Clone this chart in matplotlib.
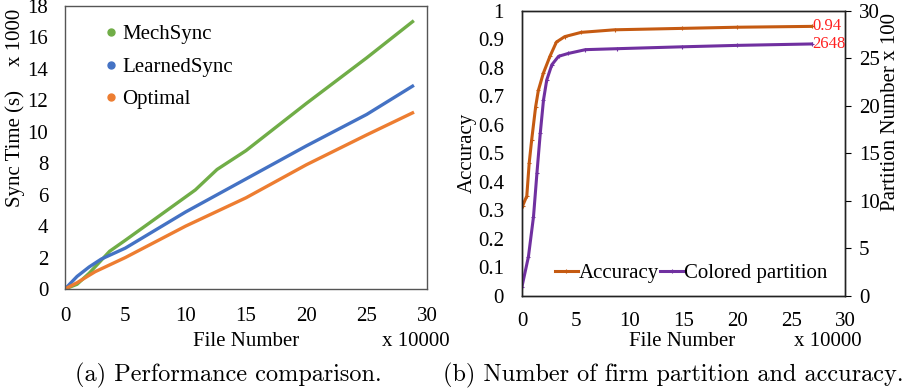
import matplotlib
matplotlib.use("Agg")
import matplotlib.pyplot as plt

# panel (a): sync time (x 1000 s) vs file number (x 10000)
mech_x = [0, 1, 2, 3.7, 5, 7, 10.8, 12.6, 15, 20, 25, 28.8]
mech_y = [0, 0.3, 1.0, 2.4, 3.1, 4.2, 6.3, 7.6, 8.8, 11.8, 14.7, 17.0]
learned_x = [0, 0.5, 1, 2, 3, 5, 10, 15, 20, 25, 28.8]
learned_y = [0, 0.4, 0.8, 1.4, 1.9, 2.6, 4.9, 7.0, 9.1, 11.1, 12.9]
opt_x = [0, 1, 2.5, 5, 10, 15, 20, 25, 28.8]
opt_y = [0, 0.4, 1.1, 2.0, 4.0, 5.8, 7.9, 9.8, 11.2]

# panel (b): accuracy and colored partition count (x 100)
acc_x = [0.06, 0.45, 0.67, 0.9, 1.27, 1.52, 1.98, 2.6, 3.2, 3.97, 5.5, 8.6, 14.9, 20, 26.9]
acc_y = [0.315, 0.35, 0.465, 0.546, 0.663, 0.72, 0.78, 0.84, 0.89, 0.909, 0.924, 0.933, 0.938, 0.942, 0.945]
part_x = [0.0, 0.6, 1.07, 1.39, 1.7, 2.0, 2.3, 2.77, 3.4, 4.3, 5.9, 8.8, 14.9, 20, 26.9]
part_y = [0.95, 4.1, 8.3, 12.9, 17.1, 20.6, 22.7, 24.3, 25.2, 25.5, 25.9, 26.0, 26.2, 26.35, 26.5]

serif = "Liberation Serif"
fs = 15

fig = plt.figure(figsize=(9.13, 3.92), dpi=100)

# ---- (a) ----
ax = fig.add_axes([0.0712, 0.2628, 0.3965, 0.722])
ax.plot(mech_x, mech_y, color="#70AD47", lw=2.4, label="MechSync")
ax.plot(learned_x, learned_y, color="#4472C4", lw=2.4, label="LearnedSync")
ax.plot(opt_x, opt_y, color="#ED7D31", lw=2.4, label="Optimal")
ax.set_xlim(0, 30)
ax.set_ylim(0, 18)
ax.set_xticks(range(0, 31, 5))
ax.set_yticks(range(0, 19, 2))
ax.tick_params(axis="y", length=0, labelsize=fs, pad=12)
ax.tick_params(axis="x", length=0, labelsize=fs, pad=13)
for lab in ax.get_xticklabels() + ax.get_yticklabels():
    lab.set_fontfamily(serif)
for s in ax.spines.values():
    s.set_color("#555555")
    s.set_linewidth(1.0)
handles = [plt.Line2D([], [], ls="", marker="o", ms=5, color=c)
           for c in ["#70AD47", "#4472C4", "#ED7D31"]]
ax.legend(handles, ["MechSync", "LearnedSync", "Optimal"], loc="upper left",
          frameon=False, prop={"family": serif, "size": fs}, handlelength=0.5,
          handletextpad=0.3, labelspacing=0.62, borderaxespad=0.5,
          bbox_to_anchor=(0.06, 1.0))

fig.text(15 / 913, 1 - 149 / 392, "Sync Time (s)", rotation=90, ha="center", va="center",
         family=serif, size=fs)
fig.text(15 / 913, 1 - 37 / 392, "x 1000", rotation=90, ha="center", va="center",
         family=serif, size=fs)
fig.text(246 / 913, 1 - 342 / 392, "File Number", ha="center", va="center",
         family=serif, size=fs)
fig.text(416 / 913, 1 - 342 / 392, "x 10000", ha="center", va="center",
         family=serif, size=fs)
fig.text(228 / 913, 1 - 375 / 392, "(a) Performance comparison.", ha="center", va="center",
         family="cmr10", size=17.5)

# ---- (b) ----
bx = fig.add_axes([0.5717, 0.2457, 0.3538, 0.727])
l1, = bx.plot(acc_x, acc_y, color="#C55A11", lw=2.2, marker="+", ms=3, mew=0.8,
              label="Accuracy")
bx.set_xlim(0, 30)
bx.set_ylim(0, 1)
bx.set_xticks(range(0, 31, 5))
bx.set_yticks([i / 10 for i in range(11)])
bx.set_yticklabels(["0", "0.1", "0.2", "0.3", "0.4", "0.5", "0.6", "0.7", "0.8", "0.9", "1"])
bx.tick_params(axis="y", length=0, labelsize=fs, pad=13)
bx.tick_params(axis="x", length=0, labelsize=fs, pad=12)
for lab in bx.get_xticklabels() + bx.get_yticklabels():
    lab.set_fontfamily(serif)

bx2 = bx.twinx()
l2, = bx2.plot(part_x, part_y, color="#7030A0", lw=2.2, marker="+", ms=3, mew=0.8,
               label="Colored partition")
bx2.set_ylim(0, 30)
bx2.set_yticks(range(0, 31, 5))
bx2.tick_params(axis="y", length=4, direction="out", labelsize=fs, pad=6)
for lab in bx2.get_yticklabels():
    lab.set_fontfamily(serif)
for a in (bx, bx2):
    for s in a.spines.values():
        s.set_color("#222222")
        s.set_linewidth(1.0)

bx.text(acc_x[-1] + 0.1, acc_y[-1], "0.94", color="#FF2020", family=serif, size=12,
        ha="left", va="center")
bx2.text(part_x[-1] + 0.1, part_y[-1], "2648", color="#FF2020", family=serif, size=12,
         ha="left", va="center")

bx.legend([l1, l2], ["Accuracy", "Colored partition"], loc="lower left", ncol=2,
          frameon=False, prop={"family": serif, "size": fs}, handlelength=1.1,
          handletextpad=0.05, columnspacing=0.05, borderaxespad=0.2,
          bbox_to_anchor=(0.063, 0.0))

fig.text(467 / 913, 1 - 153 / 392, "Accuracy", rotation=90, ha="center", va="center",
         family=serif, size=fs)
fig.text(890 / 913, 1 - 112 / 392, "Partition Number x 100", rotation=90, ha="center",
         va="center", family=serif, size=fs)
fig.text(682 / 913, 1 - 342 / 392, "File Number", ha="center", va="center",
         family=serif, size=fs)
fig.text(828 / 913, 1 - 342 / 392, "x 10000", ha="center", va="center",
         family=serif, size=fs)
fig.text(673 / 913, 1 - 375 / 392, "(b) Number of firm partition and accuracy.",
         ha="center", va="center", family="cmr10", size=17.5)

fig.savefig("out.png", dpi=100)
